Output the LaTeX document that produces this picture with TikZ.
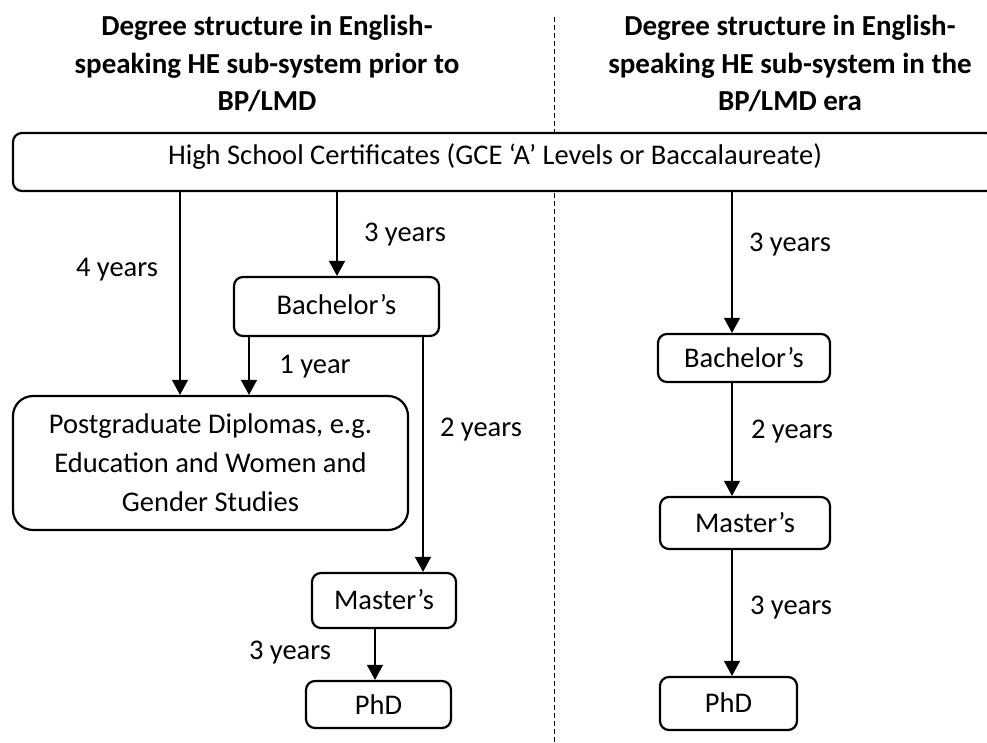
\documentclass[tikz,border=0pt]{standalone}
\usepackage{fontspec}
\setmainfont{Carlito}
\usetikzlibrary{arrows.meta}
\begin{document}
\begin{tikzpicture}[x=1pt,y=-1pt,
  box/.style={draw, line width=2.2pt, rounded corners=9pt, inner sep=0pt, fill=white},
  body/.style={font=\fontsize{28.5}{39}\selectfont},
  head/.style={font=\fontsize{29}{37.5}\selectfont\bfseries, align=center},
  arr/.style={line width=1.2pt, -{Triangle[length=15pt,width=16pt]}},
  divider/.style={line width=1pt, dash pattern=on 5pt off 3pt}]
\useasboundingbox (0,0) rectangle (987,742);

% column divider (drawn first, boxes cover it)
\coordinate (dtop) at (554,17);
\coordinate (dbot) at (554,742);
\draw[divider] (dtop) -- (dbot);

% column headings
\node[head] (headL) at (267,63.5) {Degree structure in English-\\speaking HE sub-system prior to\\BP/LMD};
\node[head] (headR) at (790,63.5) {Degree structure in English-\\speaking HE sub-system in the\\BP/LMD era};

% entry qualification
\node[box, minimum width=982pt, minimum height=58pt] (hs) at (504,162) {};
\node[body] (hstext) at (495,157) {High School Certificates (GCE ‘A’ Levels or Baccalaureate)};

% left column
\node[box, body, minimum width=205pt, minimum height=59pt] (bachL) at (336.5,306.5) {\raisebox{5pt}{Bachelor’s}};
\node[box, body, rounded corners=20pt, minimum width=395pt, minimum height=134pt,
      align=center] (pg) at (210.5,463) {Postgraduate Diplomas, e.g.\\Education and Women and\\Gender Studies};
\node[box, body, minimum width=144pt, minimum height=55pt] (masL) at (384,600.5) {\raisebox{3pt}{Master’s}};
\node[box, body, minimum width=145pt, minimum height=47pt] (phdL) at (378.5,704.5) {PhD};

% right column
\node[box, body, minimum width=172pt, minimum height=48pt] (bachR) at (744,358) {Bachelor’s};
\node[box, body, minimum width=170pt, minimum height=52pt] (masR) at (745,523) {Master’s};
\node[box, body, minimum width=137pt, minimum height=53pt] (phdR) at (728.5,703.5) {\raisebox{2pt}{PhD}};

% x positions of the connectors
\coordinate (xa) at (180,0);
\coordinate (xb) at (337,0);
\coordinate (xc) at (249,0);
\coordinate (xd) at (423,0);
\coordinate (xe) at (375,0);
\coordinate (xr) at (732,0);

% connectors, left column
\draw[arr] (hs.south -| xa) -- (pg.north -| xa);
\draw[arr] (hs.south -| xb) -- (bachL.north -| xb);
\draw[arr] (bachL.south -| xc) -- (pg.north -| xc);
\draw[arr] (bachL.south -| xd) -- (masL.north -| xd);
\draw[arr] (masL.south -| xe) -- (phdL.north -| xe);

% connectors, right column
\draw[arr] (hs.south -| xr) -- (bachR.north -| xr);
\draw[arr] (bachR.south -| xr) -- (masR.north -| xr);
\draw[arr] (masR.south -| xr) -- (phdR.north -| xr);

% durations
\node[body] (d1) at (117,270) {4 years};
\node[body] (d2) at (405,235) {3 years};
\node[body] (d3) at (315,367) {1 year};
\node[body] (d4) at (481,430) {2 years};
\node[body] (d5) at (290,653) {3 years};
\node[body] (d6) at (790,245) {3 years};
\node[body] (d7) at (792,432) {2 years};
\node[body] (d8) at (791,608) {3 years};
\end{tikzpicture}
\end{document}
